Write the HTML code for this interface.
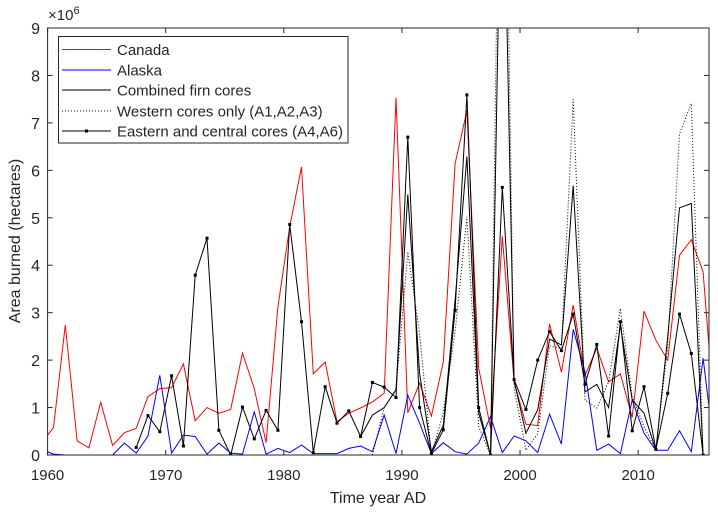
<!DOCTYPE html>
<html><head><meta charset="utf-8"><style>
body{margin:0;background:#fff}
svg text{font-family:"Liberation Sans",sans-serif;fill:#262626}
</style></head><body>
<svg id="chart" width="718" height="514" viewBox="0 0 718 514" xmlns="http://www.w3.org/2000/svg">
<defs><clipPath id="clip"><rect x="47.6" y="28" width="661.4" height="427"/></clipPath></defs>
<rect x="0" y="0" width="718" height="514" fill="#fff"/>
<g id="series" clip-path="url(#clip)"></g>
<g id="axes"></g>
</svg>
<script>
const years = [];
for (let y = 1959; y <= 2016; y++) years.push(y);
const canada = [0.26,0.58,2.74,0.30,0.15,1.11,0.20,0.47,0.56,1.23,1.40,1.42,1.92,0.72,1.0,0.88,0.96,2.15,1.40,0.26,3.12,4.81,6.07,1.71,1.96,0.70,0.88,0.99,1.12,1.30,7.53,0.89,1.52,0.82,1.96,6.14,7.26,1.83,0.57,4.61,1.54,0.65,0.62,2.76,1.75,3.16,1.68,2.25,1.54,1.71,0.79,3.03,2.42,2.0,4.21,4.54,3.86,0.7];
const alaska = [0.12,0.02,0,0,0,0,0,0.25,0.04,0.40,1.68,0.04,0.42,0.39,0.02,0.25,0.04,0.02,0.91,0.02,0.14,0.05,0.21,0.03,0.03,0.03,0.14,0.19,0.07,0.84,0.03,1.26,0.67,0.03,0.26,0.07,0.02,0.25,0.81,0.05,0.40,0.30,0.05,0.86,0.23,2.65,1.75,0.1,0.23,0.03,1.16,0.46,0.1,0.1,0.51,0.07,2.04,0];
const eastYears = [];
for (let y = 1967; y <= 2015; y++) eastYears.push(y);
const eastern = [0.16,0.83,0.49,1.67,0.19,3.79,4.57,0.52,0,1.01,0.34,0.94,0.52,4.86,2.81,0.05,1.44,0.67,0.93,0.39,1.53,1.43,1.21,6.70,1.0,0.03,0.53,3.05,7.59,1.0,0,5.64,1.59,0.96,2.0,2.6,2.2,2.97,1.49,2.33,0.40,2.81,0.51,1.44,0.12,1.3,2.97,2.14,0];
const combYears = [];
for (let y = 1986; y <= 2015; y++) combYears.push(y);
const combined = [0.39,0.84,1.0,1.38,5.49,1.72,0.07,0.63,3.26,6.29,0.88,0,14,1.57,0.46,0.95,2.44,2.32,5.68,1.33,1.49,1.0,2.74,1.16,0.88,0.1,2.49,5.21,5.3,0];
const westYears = [];
for (let y = 1987; y <= 2015; y++) westYears.push(y);
const western = [0,1.0,1.37,4.28,2.56,0,0.9,2.6,5.02,0.6,0,18,1.42,0.1,0.45,2.3,2.25,7.5,1.16,0.99,1.54,3.09,1.23,0.6,0.1,2.3,6.77,7.41,0];
const xTicks = [1960,1970,1980,1990,2000,2010];
const yTicks = [0,1,2,3,4,5,6,7,8,9];

const X0=47.6, X1=709, Y0=455, Y1=28;
const xs = yr => X0 + (yr + 0.5 - 1960) / 56 * (X1 - X0);
const xt = yr => X0 + (yr - 1960) / 56 * (X1 - X0);
const ys = v => Y0 - v / 9 * (Y0 - Y1);
const NS = "http://www.w3.org/2000/svg";
const g = document.getElementById('series');
const ax = document.getElementById('axes');
function mk(tag, attrs, parent){const e=document.createElementNS(NS,tag);for(const k in attrs)e.setAttribute(k,attrs[k]);parent.appendChild(e);return e;}
function pts(xa, va){return va.map((v,i)=>xs(xa[i]).toFixed(1)+','+ys(v).toFixed(1)).join(' ');}

let p;
p = mk('polyline',{points:pts(years,canada),fill:'none',stroke:'#ff0000','stroke-width':1},g);


p = mk('polyline',{points:pts(years,alaska),fill:'none',stroke:'#0000ff','stroke-width':1},g);


p = mk('polyline',{points:pts(westYears,western),fill:'none',stroke:'#000','stroke-width':1,'stroke-dasharray':'1,2'},g);


p = mk('polyline',{points:pts(combYears,combined),fill:'none',stroke:'#000','stroke-width':1},g);


p = mk('polyline',{points:pts(eastYears,eastern),fill:'none',stroke:'#000','stroke-width':1},g);


eastern.forEach((v,i)=>{
  const m = mk('rect',{x:xs(eastYears[i])-1.5,y:ys(v)-1.5,width:3,height:3,fill:'#000'},g);
  
  
});

const frame = mk('rect',{x:X0,y:Y1,width:X1-X0,height:Y0-Y1,fill:'none',stroke:'#262626','stroke-width':1},ax);


xTicks.forEach(t=>{
  const x=xt(t);
  mk('line',{x1:x,y1:Y0,x2:x,y2:Y0-5,stroke:'#262626'},ax);
  mk('line',{x1:x,y1:Y1,x2:x,y2:Y1+5,stroke:'#262626'},ax);
  const tx = mk('text',{x:x,y:480,'text-anchor':'middle','font-size':15},ax);
  tx.textContent=t;
  
  
});
yTicks.forEach(t=>{
  const y=ys(t);
  mk('line',{x1:X0,y1:y,x2:X0+5,y2:y,stroke:'#262626'},ax);
  mk('line',{x1:X1,y1:y,x2:X1-5,y2:y,stroke:'#262626'},ax);
  const tx = mk('text',{x:40,y:y+6,'text-anchor':'end','font-size':16},ax);
  tx.textContent=t;
  
  
});
</script>
<svg style="position:absolute;left:0;top:0" width="718" height="514">
<text x="48" y="20" font-size="15" fill="#262626" font-family="Liberation Sans, sans-serif">×10<tspan dy="-6" font-size="11">6</tspan></text>
<text x="378" y="503" text-anchor="middle" font-size="16" fill="#262626" font-family="Liberation Sans, sans-serif">Time year AD</text>
<text transform="translate(20,241) rotate(-90)" text-anchor="middle" font-size="16" fill="#262626" font-family="Liberation Sans, sans-serif">Area burned (hectares)</text>
<g font-family="Liberation Sans, sans-serif" font-size="15" fill="#000">
<rect x="58.5" y="36.5" width="289.5" height="106.5" fill="#fff" stroke="#262626"/>
<line x1="62" y1="49.5" x2="111" y2="49.5" stroke="#ff0000"/>
<text x="117" y="55">Canada</text>
<line x1="62" y1="70" x2="111" y2="70" stroke="#0000ff"/>
<text x="117" y="75.5">Alaska</text>
<line x1="62" y1="90" x2="111" y2="90" stroke="#000"/>
<text x="117" y="95.5">Combined firn cores</text>
<line x1="62" y1="111" x2="111" y2="111" stroke="#000" stroke-dasharray="1,2"/>
<text x="117" y="116.5">Western cores only (A1,A2,A3)</text>
<line x1="62" y1="131" x2="111" y2="131" stroke="#000"/>
<rect x="85" y="129.5" width="3" height="3" fill="#000"/>
<text x="117" y="136.5">Eastern and central cores (A4,A6)</text>
</g>
</svg>
</body></html>
